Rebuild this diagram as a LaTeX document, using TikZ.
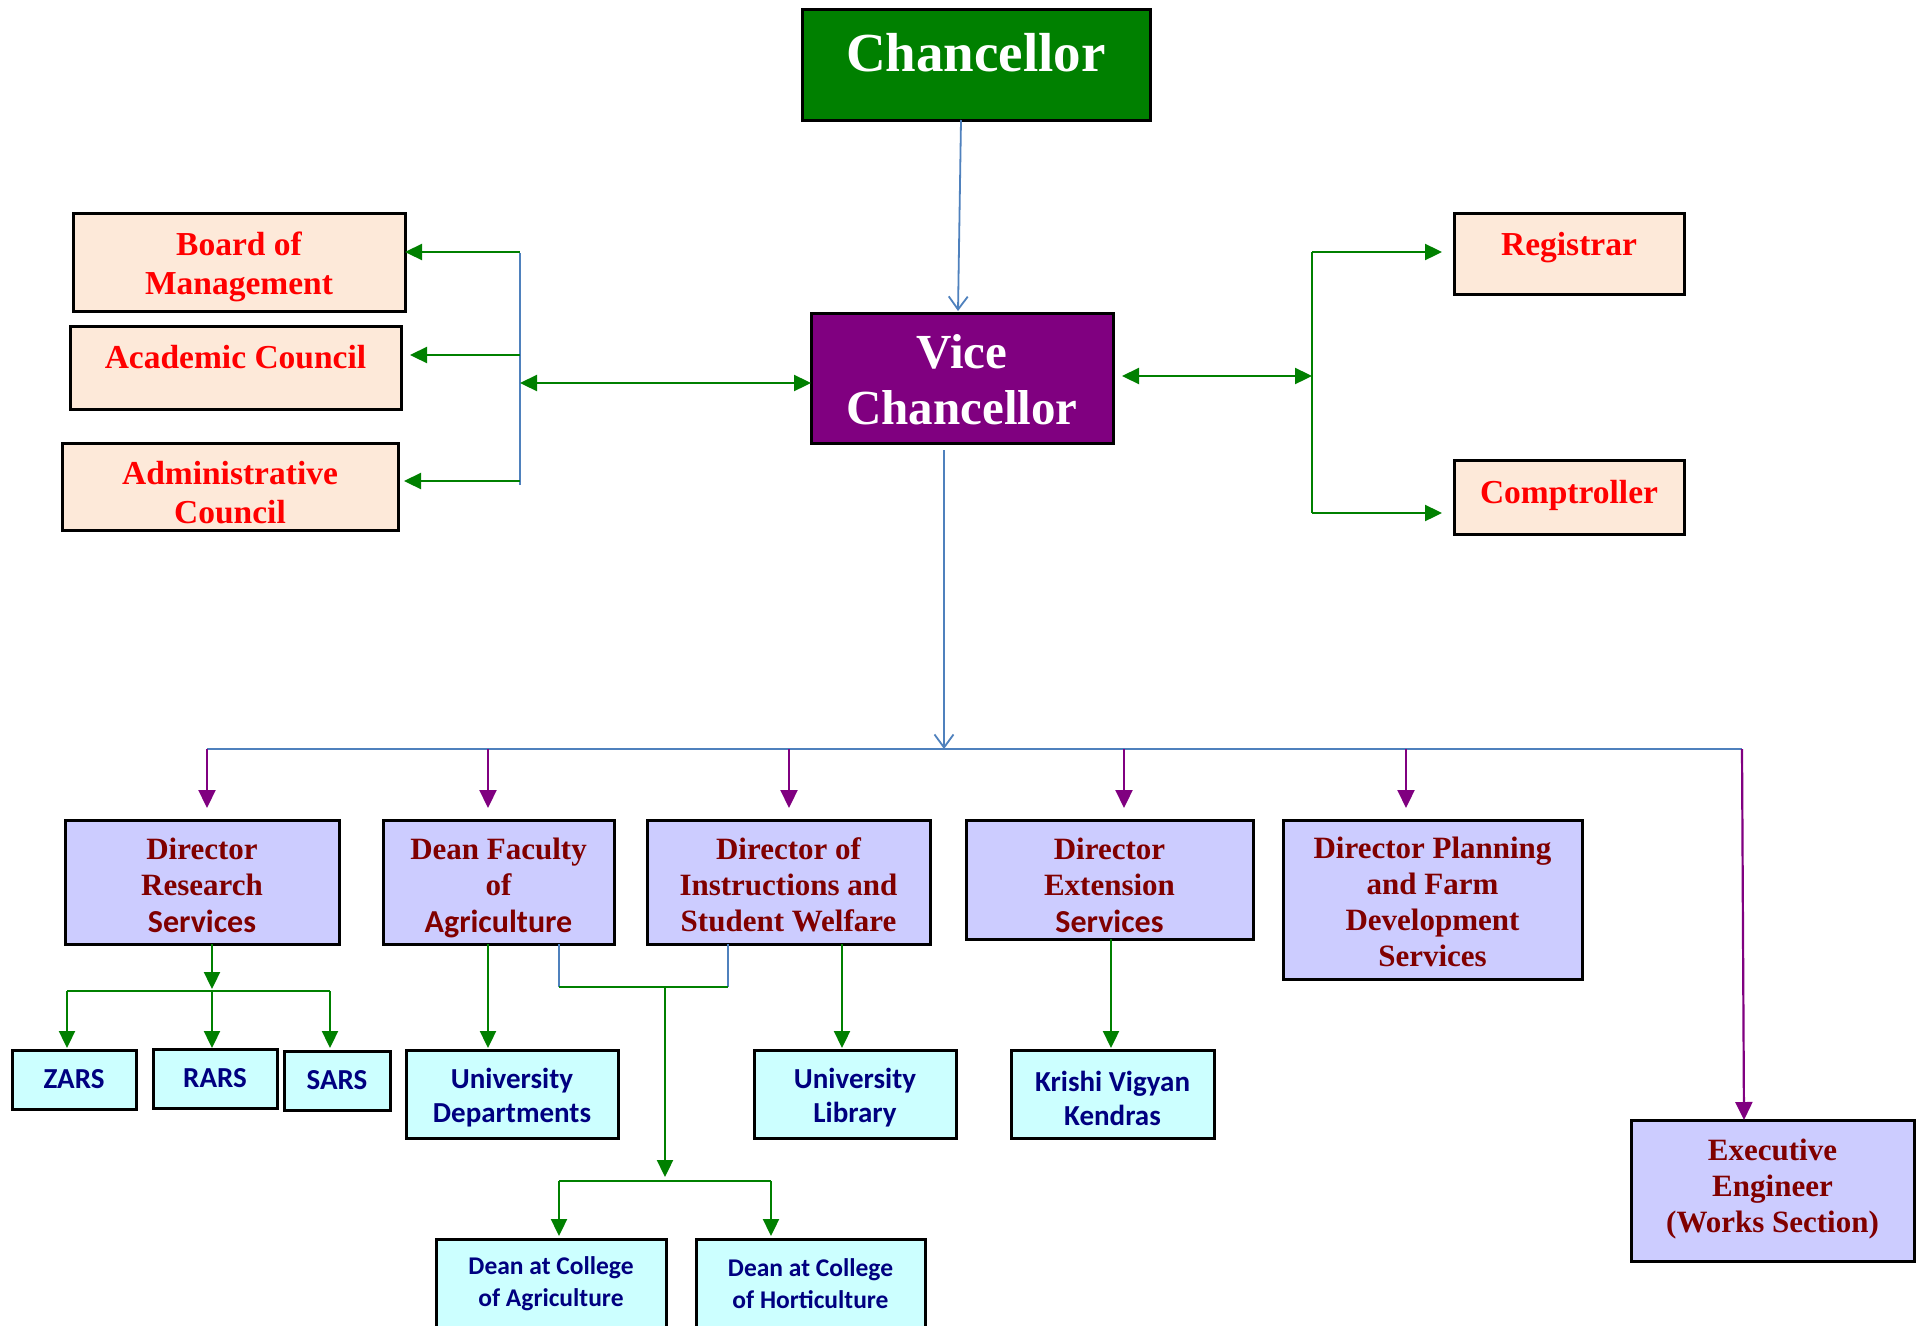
\documentclass[tikz,border=0pt]{standalone}
\usepackage{fontspec}
\setmainfont{Liberation Serif}
\newfontfamily\calfont{Carlito}
\usetikzlibrary{arrows.meta}
\definecolor{chgreen}{HTML}{008000}
\definecolor{vcpurple}{HTML}{800080}
\definecolor{peachc}{HTML}{FDE9D9}
\definecolor{lavc}{HTML}{CCCCFF}
\definecolor{cyanc}{HTML}{CCFFFF}
\definecolor{redt}{HTML}{FF0000}
\definecolor{darkredt}{HTML}{800000}
\definecolor{navyt}{HTML}{000080}
\definecolor{bline}{HTML}{4F81BD}
\definecolor{gline}{HTML}{008000}
\definecolor{pline}{HTML}{800080}
\newcommand{\BX}[6]{\node[boxs,#6,minimum width={#4-#2},minimum height={#5-#3}] (#1) at ({(#2+#4)/2},{(#3+#5)/2}) {};}
\newcommand{\sansln}[1]{{\calfont\fontsize{32}{36}\selectfont #1}}
\tikzset{
  boxs/.style={draw=black, line width=3pt, inner sep=0pt, outer sep=0pt},
  chanbox/.style={fill=chgreen},
  vcbox/.style={fill=vcpurple},
  peachbox/.style={fill=peachc},
  lavbox/.style={fill=lavc},
  cyanbox/.style={fill=cyanc},
  chtxt/.style={text=white, font=\bfseries\fontsize{55}{62}\selectfont, align=center, inner sep=0pt},
  vctxt/.style={text=white, font=\bfseries\fontsize{49}{56}\selectfont, align=center, inner sep=0pt},
  redtxt/.style={text=redt, font=\bfseries\fontsize{33.5}{39}\selectfont, align=center, inner sep=0pt},
  drtxt/.style={text=darkredt, font=\bfseries\fontsize{31}{36}\selectfont, align=center, inner sep=0pt},
  nvtxt/.style={text=navyt, font=\calfont\bfseries\fontsize{29}{34}\selectfont, align=center, inner sep=0pt},
  nvsmall/.style={text=navyt, font=\calfont\bfseries\fontsize{25.5}{32}\selectfont, align=center, inner sep=0pt},
  bl/.style={draw=bline, line width=1.8pt},
  blarrow/.style={draw=bline, line width=1.8pt, -{Straight Barb[length=13pt,width=19pt,line width=1.8pt]}},
  gl/.style={draw=gline, line width=2.3pt},
  garrow/.style={draw=gline, line width=2.3pt, -{Triangle[length=17pt,width=16pt]}},
  gdarrow/.style={draw=gline, line width=2.3pt, {Triangle[length=17pt,width=16pt]}-{Triangle[length=17pt,width=16pt]}},
  parrow/.style={draw=pline, line width=2.2pt, -{Triangle[length=18pt,width=17pt]}},
}
\begin{document}
\begin{tikzpicture}[x=1pt,y=-1pt]
\useasboundingbox[fill=white] (0,0) rectangle (1919,1325);

% boxes
\BX{chan}{802}{9}{1150}{120}{chanbox}
\BX{vc}{811}{313}{1113}{443}{vcbox}
\BX{bom}{73}{213}{405}{311}{peachbox}
\BX{acad}{70}{326}{401}{409}{peachbox}
\BX{adm}{62}{443}{398}{530}{peachbox}
\BX{reg}{1454}{213}{1684}{294}{peachbox}
\BX{comp}{1454}{460}{1684}{534}{peachbox}
\BX{drs}{65}{820}{339}{944}{lavbox}
\BX{dfa}{383}{820}{614}{944}{lavbox}
\BX{dis}{647}{820}{930}{944}{lavbox}
\BX{des}{966}{820}{1253}{939}{lavbox}
\BX{dpf}{1283}{820}{1582}{979}{lavbox}
\BX{exe}{1631}{1120}{1914}{1261}{lavbox}
\BX{zars}{12}{1050}{136}{1109}{cyanbox}
\BX{rars}{153}{1049}{277}{1108}{cyanbox}
\BX{sars}{284}{1051}{390}{1110}{cyanbox}
\BX{udep}{406}{1050}{618}{1138}{cyanbox}
\BX{ulib}{754}{1050}{956}{1138}{cyanbox}
\BX{kvk}{1011}{1050}{1214}{1138}{cyanbox}
\BX{dca}{436}{1239}{666}{1340}{cyanbox}
\BX{dch}{696}{1239}{925}{1340}{cyanbox}

% texts
\node[chtxt] (chant) at (chan.center |- 0,53) {Chancellor};
\node[vctxt] (vct) at (vc.center |- 0,380) {Vice\\Chancellor};
\node[redtxt] (bomt) at (bom.center |- 0,267) {Board of\\Management};
\node[redtxt] (acadt) at (acad.center |- 0,357) {Academic Council};
\node[redtxt] (admt) at (adm.center |- 0,493) {Administrative\\Council};
\node[redtxt] (regt) at (reg.center |- 0,248) {Registrar};
\node[redtxt] (compt) at (comp.center |- 0,495) {Comptroller};
\node[drtxt] (drst) at (drs.center |- 0,885) {Director\\Research\\[1pt]\sansln{Services}};
\node[drtxt] (dfat) at (dfa.center |- 0,888) {Dean Faculty\\of\\[1pt]\sansln{Agriculture}};
\node[drtxt] (dist) at (dis.center |- 0,885) {Director of\\Instructions and\\Student Welfare};
\node[drtxt] (dest) at (des.center |- 0,885) {Director\\Extension\\[1pt]\sansln{Services}};
\node[drtxt] (dpft) at (dpf.center |- 0,902) {Director Planning\\and Farm\\Development\\Services};
\node[drtxt] (exet) at (exe.center |- 0,1189) {Executive\\Engineer\\(Works Section)};
\node[nvtxt] (zarst) at (zars.center |- 0,1079) {ZARS};
\node[nvtxt] (rarst) at (rars.center |- 0,1078) {RARS};
\node[nvtxt] (sarst) at (sars.center |- 0,1080) {SARS};
\node[nvtxt] (udept) at (udep.center |- 0,1098) {University\\Departments};
\node[nvtxt] (ulibt) at (ulib.center |- 0,1098) {University\\Library};
\node[nvtxt] (kvkt) at (kvk.center |- 0,1098) {Krishi Vigyan\\Kendras};
\node[nvsmall] (dcat) at (dca.center |- 0,1284) {Dean at College\\of Agriculture};
\node[nvsmall] (dcht) at (dch.center |- 0,1284) {Dean at College\\of Horticulture};

% Chancellor -> VC
\draw[blarrow] ([xshift=-15pt]chan.south) -- ([xshift=-4pt,yshift=2pt]vc.north);

% left side
\coordinate (lbt) at (520,253);
\coordinate (lbb) at (520,485);
\coordinate (lbm) at (520,383);
\draw[bl] (lbt) -- (lbb);
\draw[garrow] (520,252) -- (bom.east |- 0,252);
\draw[garrow] (520,355) -- ([xshift=9pt]acad.east |- 0,355);
\draw[garrow] (520,481) -- ([xshift=6pt]adm.east |- 0,481);
\draw[gdarrow] (lbm) -- (vc.west |- lbm);

% right side
\coordinate (rbm) at (1312,376);
\coordinate (rbt) at (1312,252);
\coordinate (rbb) at (1312,513);
\draw[gdarrow] ([xshift=9pt]vc.east |- rbm) -- (rbm);
\draw[gl] (rbt) -- (rbb);
\draw[garrow] (rbt) -- ([xshift=-12pt]reg.west |- rbt);
\draw[garrow] (rbb) -- ([xshift=-12pt]comp.west |- rbb);

% VC down to bus
\coordinate (bus) at (944,749);
\draw[blarrow] ([xshift=-18pt,yshift=-7pt]vc.south) -- (bus);
\coordinate (busl) at (207,749);
\coordinate (busr) at (1742,749);
\draw[bl] (busl) -- (busr);
\draw[parrow] (busl) -- ([yshift=12pt]drs.north -| busl);
\draw[parrow] (488,749) -- (488,808);
\draw[parrow] (789,749) -- (789,808);
\draw[parrow] (1124,749) -- (1124,808);
\draw[parrow] (1406,749) -- (1406,808);
\draw[parrow] (busr) -- (exe.north -| 1744,0);

% DRS -> stations
\coordinate (drsj) at (212,991);
\draw[garrow] (drs.south -| drsj) -- (212,989);
\draw[gl] (67,991) -- (330,991);
\draw[garrow] (67,991) -- ([yshift=2pt]zars.north -| 67,0);
\draw[garrow] (212,991) -- ([yshift=1pt]rars.north -| 212,0);
\draw[garrow] (330,991) -- ([yshift=3pt]sars.north -| 330,0);

% Dean faculty -> departments
\draw[garrow] (dfa.south -| 488,0) -- ([yshift=2pt]udep.north -| 488,0);
% joint to colleges
\coordinate (cj1) at (559,987);
\coordinate (cj2) at (728,987);
\coordinate (cjm) at (665,987);
\draw[bl] (dfa.south -| cj1) -- (cj1);
\draw[bl] (dis.south -| cj2) -- (cj2);
\draw[gl] (cj1) -- (cj2);
\coordinate (cjb) at (665,1181);
\draw[garrow] (cjm) -- (665,1177);
\draw[gl] (559,1181) -- (771,1181);
\draw[garrow] (559,1181) -- ([yshift=3pt]dca.north -| 559,0);
\draw[garrow] (771,1181) -- ([yshift=3pt]dch.north -| 771,0);

% DIS -> library, DES -> KVK
\draw[garrow] (dis.south -| 842,0) -- ([yshift=2pt]ulib.north -| 842,0);
\draw[garrow] (des.south -| 1111,0) -- ([yshift=2pt]kvk.north -| 1111,0);
\end{tikzpicture}
\end{document}
